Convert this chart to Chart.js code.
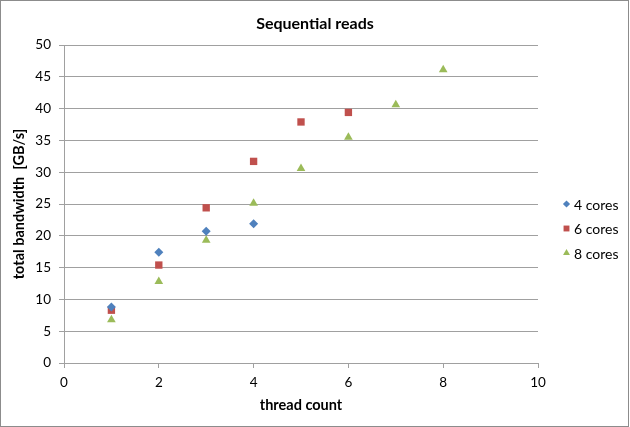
<!DOCTYPE html>
<html>
<head>
<meta charset="utf-8">
<script src="https://cdn.jsdelivr.net/npm/chart.js@4"></script>
<style>
  body { margin: 0; background: #fff; }
  #wrap { width: 630px; height: 427px; }
</style>
</head>
<body>
<div id="wrap"><canvas id="chart" width="630" height="427"></canvas></div>
<script>
// values
const seriesNames = ['4 cores', '6 cores', '8 cores'];
const threads4 = [1, 2, 3, 4];
const cores4 = [8.8, 17.4, 20.7, 21.9];
const threads6 = [1, 2, 3, 4, 5, 6];
const cores6 = [8.3, 15.4, 24.4, 31.7, 37.9, 39.4];
const threads8 = [1, 2, 3, 4, 5, 6, 7, 8];
const cores8 = [6.8, 12.8, 19.3, 25.1, 30.6, 35.5, 40.6, 46.1];

const FONT = 'Lato, "Open Sans", sans-serif';

function pts(xs, ys) {
    return xs.map((x, i) => ({ x: x, y: ys[i] }));
}

// title, legend and frame drawn by hand so the title stays centred on the whole picture
const extras = {
    id: 'extras',
    beforeDraw(chart) {
        const c = chart.ctx;
        c.save();
        c.fillStyle = '#fff';
        c.fillRect(0, 0, chart.width, chart.height);
        c.restore();
    },
    afterDraw(chart) {
        const c = chart.ctx;
        c.save();
        c.strokeStyle = '#8c8c8c';
        c.lineWidth = 1;
        c.strokeRect(0.5, 0.5, chart.width - 2, chart.height - 1);

        c.fillStyle = '#000';
        c.font = 'bold 16px ' + FONT;
        c.textAlign = 'center';
        c.textBaseline = 'middle';
        c.fillText('Sequential reads', chart.width / 2, 24);

        c.font = '14px ' + FONT;
        c.textAlign = 'left';
        chart.data.datasets.forEach((ds, i) => {
            const y = 204 + i * 24.5;
            c.fillStyle = ds.backgroundColor;
            Chart.helpers.drawPoint(c, {
                pointStyle: ds.pointStyle,
                radius: ds.pointRadius * 0.8,
                rotation: 0,
                borderWidth: 0
            }, 566.5, y);
            c.fillStyle = '#000';
            c.fillText(ds.label, 574, y + 1);
        });
        c.restore();
    }
};

new Chart(document.getElementById('chart'), {
    type: 'scatter',
    data: {
        datasets: [
            {
                label: seriesNames[0],
                data: pts(threads4, cores4),
                backgroundColor: '#4F81BD',
                borderColor: '#4F81BD',
                borderWidth: 0,
                pointStyle: 'rectRot',
                pointRadius: 4.5,
                pointHoverRadius: 4.5
            },
            {
                label: seriesNames[1],
                data: pts(threads6, cores6),
                backgroundColor: '#C0504D',
                borderColor: '#C0504D',
                borderWidth: 0,
                pointStyle: 'rect',
                pointRadius: 5.2,
                pointHoverRadius: 5.2
            },
            {
                label: seriesNames[2],
                data: pts(threads8, cores8),
                backgroundColor: '#9BBB59',
                borderColor: '#9BBB59',
                borderWidth: 0,
                pointStyle: 'triangle',
                pointRadius: 5,
                pointHoverRadius: 5
            }
        ]
    },
    options: {
        responsive: false,
        animation: false,
        layout: { padding: { left: 0, right: 92, top: 45, bottom: 0 } },
        plugins: {
            legend: { display: false },
            title: { display: false },
            tooltip: { enabled: false }
        },
        scales: {
            x: {
                type: 'linear',
                min: 0,
                max: 10,
                afterFit(scale) { scale.height = 64; },
                ticks: {
                    stepSize: 2,
                    padding: 7,
                    color: '#000',
                    font: { family: FONT, size: 13.5 }
                },
                grid: {
                    drawOnChartArea: false,
                    drawTicks: true,
                    tickLength: 5,
                    color: '#a0a0a0'
                },
                border: { display: true, color: '#a0a0a0' },
                title: {
                    display: true,
                    text: 'thread count',
                    color: '#000',
                    font: { family: FONT, size: 14.5, weight: 'bold' },
                    padding: { top: 0, bottom: 13 }
                }
            },
            y: {
                min: 0,
                max: 50,
                afterFit(scale) { scale.width = 64; },
                ticks: {
                    stepSize: 5,
                    padding: 8,
                    color: '#000',
                    font: { family: FONT, size: 13.5 }
                },
                grid: {
                    color: '#a0a0a0',
                    tickLength: 5
                },
                border: { display: true, color: '#a0a0a0' },
                title: {
                    display: true,
                    text: 'total bandwidth  [GB/s]',
                    color: '#000',
                    font: { family: FONT, size: 14.5, weight: 'bold' },
                    padding: { top: 11, bottom: 0 }
                }
            }
        }
    },
    plugins: [extras]
});
</script>
</body>
</html>
